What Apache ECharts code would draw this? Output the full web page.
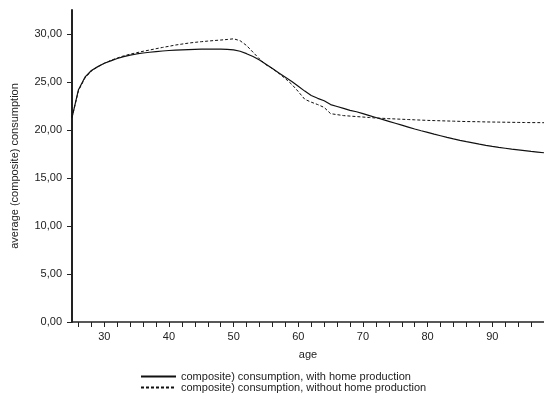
<!DOCTYPE html>
<html><head><meta charset="utf-8">
<script src="https://cdn.jsdelivr.net/npm/echarts@6/dist/echarts.min.js"></script>
<style>html,body{margin:0;padding:0;background:#fff}#c{width:544px;height:396px}</style>
</head><body><div id="c"></div>
<script>
var ages = [];
for (var a = 25; a <= 98; a++) ages.push(a);
var withHome = [21.3,24.2,25.5,26.2,26.6,26.95,27.2,27.45,27.65,27.8,27.92,28.02,28.1,28.17,28.23,28.28,28.32,28.35,28.38,28.4,28.42,28.43,28.43,28.42,28.4,28.35,28.2,27.95,27.65,27.3,26.85,26.4,25.95,25.5,25.05,24.55,24.05,23.6,23.3,23.05,22.65,22.45,22.25,22.05,21.9,21.7,21.5,21.3,21.1,20.9,20.7,20.5,20.3,20.1,19.92,19.75,19.57,19.4,19.23,19.07,18.92,18.78,18.65,18.52,18.4,18.29,18.19,18.1,18.01,17.93,17.85,17.77,17.7,17.63];
var withoutHome = [21.3,24.1,25.4,26.15,26.6,26.95,27.25,27.5,27.72,27.9,28.05,28.2,28.33,28.47,28.6,28.72,28.85,28.95,29.05,29.13,29.2,29.26,29.32,29.37,29.43,29.5,29.3,28.8,28.1,27.4,26.8,26.4,25.9,25.35,24.75,24.0,23.2,22.9,22.65,22.35,21.7,21.6,21.5,21.45,21.4,21.35,21.3,21.25,21.22,21.18,21.15,21.12,21.09,21.06,21.03,21.0,20.98,20.96,20.94,20.92,20.9,20.88,20.87,20.86,20.84,20.83,20.82,20.81,20.8,20.79,20.78,20.77,20.77,20.76];
var xLabels = [30,40,50,60,70,80,90];
var xTicks = [26,28,30,32,34,36,38,40,42,44,46,48,50,52,54,56,58,60,62,64,66,68,70,72,74,76,78,80,82,84,86,88,90,92,94,96,98];
var yTicks = [0,5,10,15,20,25,30];
var seriesNames = ['composite) consumption, with home production','composite) consumption, without home production'];

function pairs(vals){ return ages.map(function(a,i){ return [a, vals[i]]; }); }

var FONT = 'Liberation Sans, Arial, sans-serif';
var chart = echarts.init(document.getElementById('c'), null, {renderer:'canvas'});
chart.setOption({
  animation:false,
  backgroundColor:'#fff',
  textStyle:{fontFamily:FONT},
  grid:{left:72,right:0,top:10,bottom:74,containLabel:false,outerBoundsMode:'none'},
  legend:{
    orient:'vertical', left:140, top:371, itemWidth:35, itemHeight:10, itemGap:0, padding:0,
    itemStyle:{opacity:0},
    textStyle:{fontSize:11,color:'#222',fontFamily:FONT, padding:[0,0,0,0]},
    data:seriesNames
  },
  xAxis:{
    type:'value', min:25, max:98,
    name:'age', nameLocation:'middle', nameGap:27,
    nameTextStyle:{fontSize:11,color:'#222'},
    axisLine:{show:true,onZero:false,lineStyle:{color:'#222',width:1.5}},
    axisTick:{show:true,length:5,inside:false,customValues:xTicks,lineStyle:{color:'#222',width:1}},
    axisLabel:{fontSize:11,color:'#222',margin:9,customValues:xLabels},
    splitLine:{show:false}
  },
  yAxis:{
    type:'value', min:0, max:32.5,
    name:'average (composite) consumption', nameLocation:'middle', nameGap:52, nameRotate:90,
    nameTextStyle:{fontSize:11,color:'#222'},
    axisLine:{show:true,lineStyle:{color:'#222',width:2}},
    axisTick:{show:true,length:5,customValues:yTicks,lineStyle:{color:'#222',width:1}},
    axisLabel:{fontSize:11,color:'#222',margin:10,customValues:yTicks,
      formatter:function(v){ return v.toFixed(2).replace('.',','); }},
    splitLine:{show:false}
  },
  series:[
    {name:seriesNames[0], type:'line', data:pairs(withHome), symbol:'none', smooth:false,
     lineStyle:{color:'#111',width:1.2,type:'solid'}, itemStyle:{color:'#111'}},
    {name:seriesNames[1], type:'line', data:pairs(withoutHome), symbol:'none', smooth:false,
     lineStyle:{color:'#111',width:1,type:[3,2]}, itemStyle:{color:'#111'}}
  ]
});
</script></body></html>
